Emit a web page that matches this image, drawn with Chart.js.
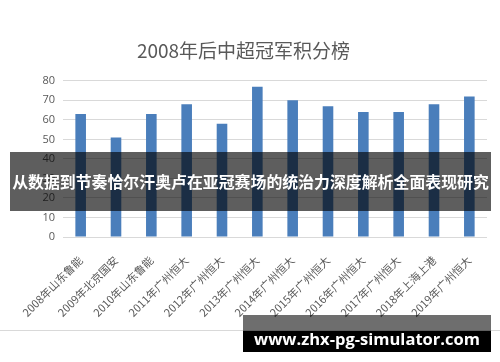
<!DOCTYPE html>
<html>
<head>
<meta charset="utf-8">
<script src="https://cdn.jsdelivr.net/npm/chart.js@4"></script>
<style>
    body { margin: 0; background: #fff; }
    #wrap { position: relative; width: 500px; height: 362px; overflow: hidden; font-family: "Noto Sans CJK SC", "Open Sans", sans-serif; }
    #frameLine { position: absolute; left: 0; top: 330px; width: 500px; height: 1px; background: #d9d9d9; }
    #banner {
        position: absolute; left: 10px; top: 152px; width: 481px; height: 59px;
        background: rgba(0, 0, 0, 0.63); color: #fff; font-weight: bold;
        font-size: 15.9px; line-height: 59px; text-align: center; white-space: nowrap;
    }
    #site {
        position: absolute; left: 243px; top: 315px; width: 248px; height: 37px;
        background: linear-gradient(to bottom, rgba(0,0,0,0.57) 0px, rgba(0,0,0,0.57) 16px, #000 16px, #000 37px);
        color: #fff; font-family: "Open Sans", sans-serif; font-weight: bold;
        white-space: nowrap; text-align: center;
    }
    #site span { position: absolute; left: 0; right: 0; top: 13px; line-height: 22px; }
</style>
</head>
<body>
<div id="wrap">
    <canvas id="pointsChart" width="500" height="362"></canvas>
    <div id="frameLine"></div>
    <div id="banner">从数据到节奏恰尔汗奥卢在亚冠赛场的统治力深度解析全面表现研究</div>
    <div id="site"><span>www.zhx-pg-simulator.com</span></div>
</div>
<script>
// Champions and points
const seasons = ["2008年山东鲁能", "2009年北京国安", "2010年山东鲁能", "2011年广州恒大", "2012年广州恒大", "2013年广州恒大",
    "2014年广州恒大", "2015年广州恒大", "2016年广州恒大", "2017年广州恒大", "2018年上海上港", "2019年广州恒大"];
const points = [63, 51, 63, 68, 58, 77, 70, 67, 64, 64, 68, 72];
const yTicks = [0, 10, 20, 30, 40, 50, 60, 70, 80];

const grey = "#595959";

// Size the site text so it spans the box like the original
const siteSpan = document.querySelector("#site span");
const probe = document.createElement("span");
probe.style.cssText = "position:absolute;visibility:hidden;font:bold 100px 'Open Sans',sans-serif;white-space:nowrap";
probe.textContent = siteSpan.textContent;
document.body.appendChild(probe);
siteSpan.style.fontSize = (100 * 226 / probe.offsetWidth) + "px";
probe.remove();

const pointsChart = new Chart(document.getElementById("pointsChart"), {
    type: "bar",
    data: {
        labels: seasons,
        datasets: [{
            label: "积分",
            data: points,
            backgroundColor: "#4a7ebb",
            categoryPercentage: 1,
            barPercentage: 0.3
        }]
    },
    options: {
        responsive: false,
        animation: false,
        layout: { padding: { left: 0, right: 13, top: 0, bottom: 0 } },
        plugins: {
            legend: { display: false },
            tooltip: { enabled: false },
            title: {
                display: true,
                text: "2008年后中超冠军积分榜",
                color: grey,
                font: { family: "'Noto Sans CJK SC', sans-serif", size: 19, weight: "normal", lineHeight: 1.2 },
                padding: { top: 39, bottom: 19 }
            }
        },
        scales: {
            x: {
                grid: { display: false },
                border: { display: false },
                ticks: {
                    color: grey,
                    // tall line height pushes the rotated labels down-right like the original
                    font: { family: "'Noto Sans CJK SC', sans-serif", size: 11, lineHeight: 2.9 },
                    maxRotation: 45,
                    minRotation: 45,
                    autoSkip: false,
                    padding: 2
                },
                afterFit: scale => { scale.height = 125; }
            },
            y: {
                min: 0,
                max: 80,
                grid: { color: "#d9d9d9", drawTicks: false },
                border: { display: false },
                afterBuildTicks: scale => { scale.ticks = yTicks.map(v => ({ value: v })); },
                ticks: {
                    color: grey,
                    font: { family: "'Open Sans', sans-serif", size: 11 },
                    padding: 8
                },
                afterFit: scale => { scale.width = 63; }
            }
        }
    }
});
</script>
</body>
</html>
